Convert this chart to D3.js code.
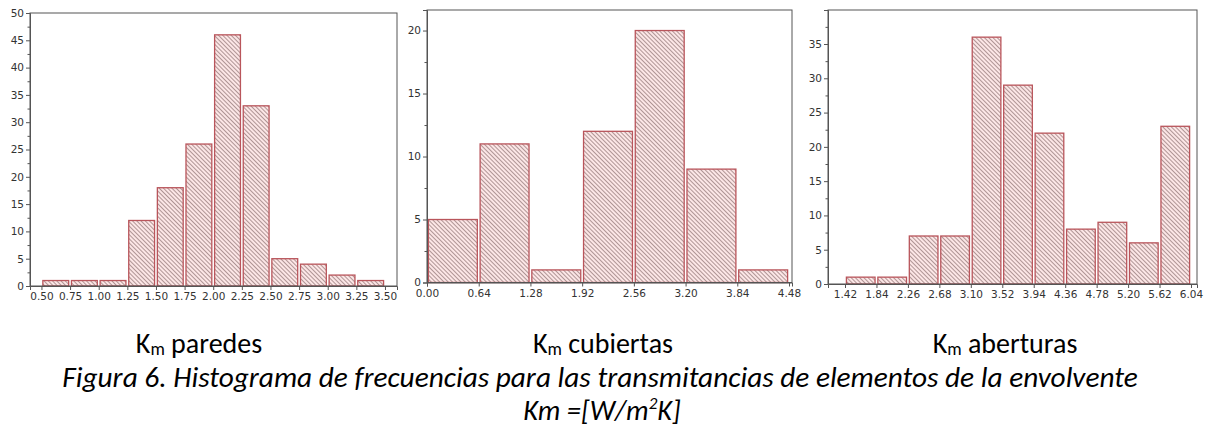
<!DOCTYPE html>
<html><head><meta charset="utf-8">
<script src="https://cdn.jsdelivr.net/npm/d3@7"></script>
<style>
html,body{margin:0;padding:0;background:#fff;}
svg{display:block;}
</style></head>
<body>
<svg id="c" width="1209" height="430"></svg>
<script>
// ---------- DATA ----------
const edgesParedes = [0.50,0.75,1.00,1.25,1.50,1.75,2.00,2.25,2.50,2.75,3.00,3.25,3.50];
const countsParedes = [1,1,1,12,18,26,46,33,5,4,2,1];
const yTicksParedes = [0,5,10,15,20,25,30,35,40,45,50];

const edgesCubiertas = [0.00,0.64,1.28,1.92,2.56,3.20,3.84,4.48];
const countsCubiertas = [5,11,1,12,20,9,1];
const yTicksCubiertas = [0,5,10,15,20];

const edgesAberturas = [1.42,1.84,2.26,2.68,3.10,3.52,3.94,4.36,4.78,5.20,5.62,6.04];
const countsAberturas = [1,1,7,7,36,29,22,8,9,6,23];
const yTicksAberturas = [0,5,10,15,20,25,30,35];

const subtitles = ["paredes","cubiertas","aberturas"];
const captionLine1 = "Figura 6. Histograma de frecuencias para las transmitancias de elementos de la envolvente";

// ---------- LAYOUT ----------
const panels = [
  {edges:edgesParedes, counts:countsParedes, yTicks:yTicksParedes,
   left:30, right:397, top:13, bottom:286, xd:[0.40,3.605], yd:[0,50], sub:subtitles[0], subX:199},
  {edges:edgesCubiertas, counts:countsCubiertas, yTicks:yTicksCubiertas,
   left:427, right:792, top:10, bottom:282.5, xd:[0,4.517], yd:[0,21.63], sub:subtitles[1], subX:603},
  {edges:edgesAberturas, counts:countsAberturas, yTicks:yTicksAberturas,
   left:828, right:1197, top:10, bottom:284, xd:[1.193,6.12], yd:[0,39.96], sub:subtitles[2], subX:1005}
];

const svg = d3.select("#c");
const defs = svg.append("defs");
const pat = defs.append("pattern").attr("id","hatch")
  .attr("patternUnits","userSpaceOnUse").attr("width",3).attr("height",3)
  .attr("patternTransform","rotate(-45)");
pat.append("rect").attr("width",3).attr("height",3).attr("fill","#fce6e6");
pat.append("line").attr("x1",0.5).attr("y1",0).attr("x2",0.5).attr("y2",3)
  .attr("stroke","#957a7a").attr("stroke-width",0.75);

const tickFont = "'DejaVu Sans', sans-serif";
const capFont = "Carlito, Lato, sans-serif";

panels.forEach(p => {
  const x = d3.scaleLinear().domain(p.xd).range([p.left, p.right]);
  const y = d3.scaleLinear().domain(p.yd).range([p.bottom, p.top]);
  const g = svg.append("g");
  const bins = p.counts.map((c,i)=>({x0:p.edges[i], x1:p.edges[i+1], c}));

  g.selectAll("rect.bar").data(bins).join("rect").attr("class","bar")
    .attr("x", d => x(d.x0)+1.4)
    .attr("width", d => x(d.x1)-x(d.x0)-2.8)
    .attr("y", d => y(d.c))
    .attr("height", d => y(0)-y(d.c))
    .attr("fill","url(#hatch)")
    .attr("stroke","#b9555b").attr("stroke-width",1.3);

  // frame
  g.append("rect").attr("x",p.left).attr("y",p.top)
    .attr("width",p.right-p.left).attr("height",p.bottom-p.top)
    .attr("fill","none").attr("stroke","#555").attr("stroke-width",1);

  // y axis
  const ya = g.append("g").attr("transform",`translate(${p.left},0)`)
    .call(d3.axisLeft(y).tickValues(p.yTicks).tickSize(4).tickPadding(2).tickFormat(d3.format("d")));
  ya.attr("font-size",null);
  ya.select(".domain").attr("stroke","#555");
  ya.selectAll("text").style("font-family",tickFont).style("font-size","10.5px").attr("fill","#333");
  ya.selectAll("line").attr("stroke","#555");
  const minorY = d3.range(2.5, p.yd[1], 5);
  g.append("g").attr("transform",`translate(${p.left},0)`)
    .call(d3.axisLeft(y).tickValues(minorY).tickSize(2.5).tickFormat(""))
    .call(s => { s.select(".domain").remove(); s.selectAll("line").attr("stroke","#555"); });

  // x axis
  const xa = g.append("g").attr("transform",`translate(0,${p.bottom})`)
    .call(d3.axisBottom(x).tickValues(p.edges).tickSize(4).tickPadding(3).tickFormat(d3.format(".2f")));
  xa.attr("font-size",null);
  xa.select(".domain").attr("stroke","#555");
  xa.selectAll("text").style("font-family",tickFont).style("font-size","10.5px").attr("fill","#333");
  xa.selectAll("line").attr("stroke","#555");

  // subtitle
  const t = svg.append("text").attr("x",p.subX).attr("y",353).attr("text-anchor","middle")
    .attr("font-family",capFont).attr("font-size","28px").attr("fill","#000");
  t.append("tspan").text("K");
  t.append("tspan").attr("font-size","18px").attr("dy",2).text("m");
  t.append("tspan").attr("dy",-2).text(" " + p.sub);
});

svg.append("text").attr("x",600).attr("y",387).attr("text-anchor","middle")
  .attr("font-family",capFont).attr("font-style","italic")
  .attr("font-size","29.3px").attr("fill","#000").text(captionLine1);

const c2 = svg.append("text").attr("x",602).attr("y",420).attr("text-anchor","middle")
  .attr("font-family",capFont).attr("font-style","italic")
  .attr("font-size","28.5px").attr("fill","#000");
c2.append("tspan").text("Km =[W/m");
c2.append("tspan").attr("font-size","17px").attr("dy",-11).text("2");
c2.append("tspan").attr("dy",11).text("K]");
</script>
</body></html>
